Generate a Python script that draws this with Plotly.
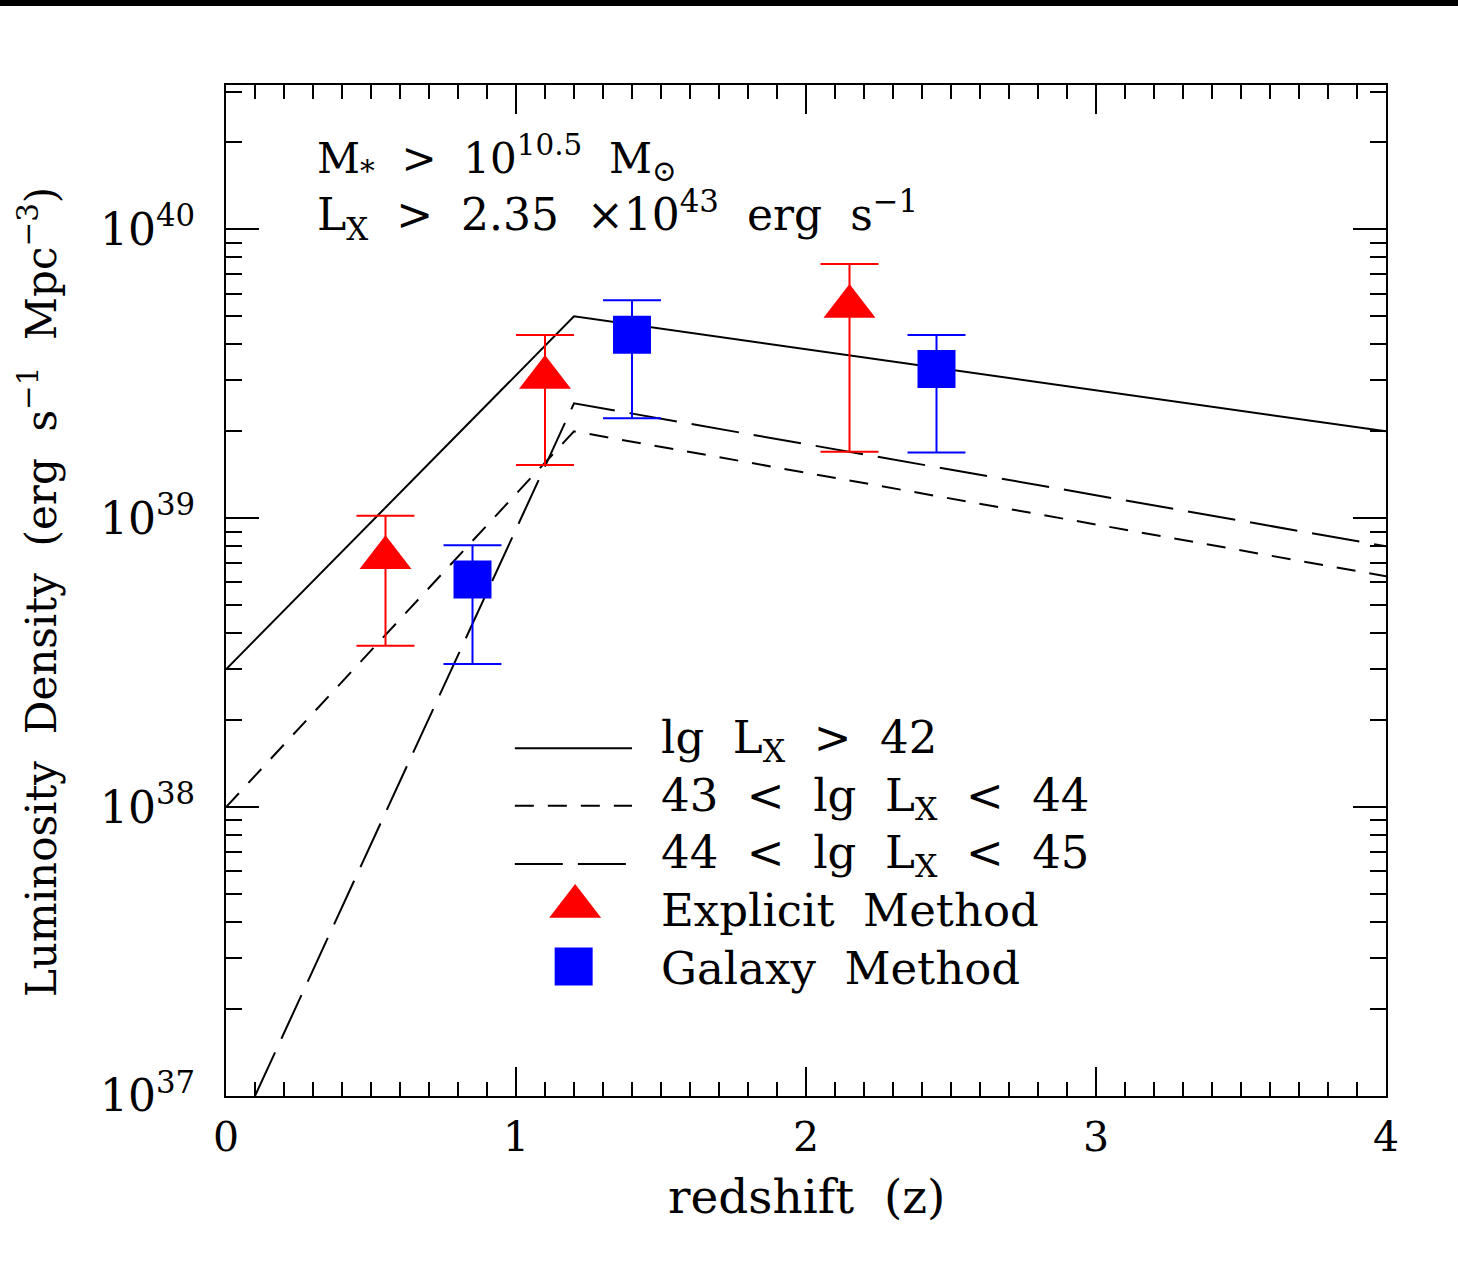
import plotly.graph_objects as go

# ---------------- data ----------------
z_gt42 = [0.0, 1.2, 4.0]
lum_gt42 = [3.0e38, 5.0e39, 2.0e39]

z_43_44 = [0.0, 1.2, 4.0]
lum_43_44 = [1.0e38, 2.0e39, 6.3e38]

z_44_45 = [0.1, 1.2, 4.0]
lum_44_45 = [1.0e37, 2.5e39, 8.0e38]

z_explicit = [0.55, 1.10, 2.15]
lum_explicit = [7.3e38, 3.07e39, 5.41e39]
lum_explicit_hi = [1.02e39, 4.31e39, 7.59e39]
lum_explicit_lo = [3.62e38, 1.53e39, 1.70e39]

z_galaxy = [0.85, 1.40, 2.45]
lum_galaxy = [6.14e38, 4.32e39, 3.29e39]
lum_galaxy_hi = [8.07e38, 5.69e39, 4.31e39]
lum_galaxy_lo = [3.13e38, 2.22e39, 1.69e39]

x_major = [0, 1, 2, 3, 4]
x_minor = [i / 10 for i in range(1, 40) if i % 10 != 0]
y_major = [1e37, 1e38, 1e39, 1e40]
y_major_text = ["10<sup>37</sup>", "10<sup>38</sup>", "10<sup>39</sup>", "10<sup>40</sup>"]
y_minor = [k * 10.0 ** n for n in range(37, 41) for k in range(2, 10) if k * 10.0 ** n < 3.2e40]

legend_labels = [
    "lg\u00a0\u00a0L<sub>X</sub>\u00a0\u00a0>\u00a0\u00a042",
    "43\u00a0\u00a0<\u00a0\u00a0lg\u00a0\u00a0L<sub>X</sub>\u00a0\u00a0<\u00a0\u00a044",
    "44\u00a0\u00a0<\u00a0\u00a0lg\u00a0\u00a0L<sub>X</sub>\u00a0\u00a0<\u00a0\u00a045",
    "Explicit\u00a0\u00a0Method",
    "Galaxy\u00a0\u00a0Method",
]

FONT = "DejaVu Serif"
RED = "#ff0000"
BLUE = "#0000ff"

fig = go.Figure()

# model curves
fig.add_trace(go.Scatter(x=z_gt42, y=lum_gt42, mode="lines",
                         line=dict(color="black", width=2), showlegend=False))
fig.add_trace(go.Scatter(x=z_43_44, y=lum_43_44, mode="lines",
                         line=dict(color="black", width=2, dash="19px,14px"), showlegend=False))
fig.add_trace(go.Scatter(x=z_44_45, y=lum_44_45, mode="lines",
                         line=dict(color="black", width=2, dash="48px,15px"), showlegend=False))

# data points with error bars
fig.add_trace(go.Scatter(
    x=z_explicit, y=lum_explicit, mode="markers",
    marker=dict(symbol="triangle-up", size=45, color=RED, line=dict(width=0)),
    error_y=dict(type="data", symmetric=False,
                 array=[h - v for h, v in zip(lum_explicit_hi, lum_explicit)],
                 arrayminus=[v - l for v, l in zip(lum_explicit, lum_explicit_lo)],
                 color=RED, thickness=2, width=29),
    showlegend=False))
fig.add_trace(go.Scatter(
    x=z_galaxy, y=lum_galaxy, mode="markers",
    marker=dict(symbol="square", size=38, color=BLUE, line=dict(width=0)),
    error_y=dict(type="data", symmetric=False,
                 array=[h - v for h, v in zip(lum_galaxy_hi, lum_galaxy)],
                 arrayminus=[v - l for v, l in zip(lum_galaxy, lum_galaxy_lo)],
                 color=BLUE, thickness=2, width=29),
    showlegend=False))

# hand-drawn legend on an overlay axis in [0,1] units
leg_x0, leg_x1 = 0.249, 0.350
leg_line_y = [0.344, 0.287, 0.2295]
leg_dash = ["solid", "19px,14px", "48px,15px"]
for yy, dd in zip(leg_line_y, leg_dash):
    fig.add_trace(go.Scatter(x=[leg_x0, leg_x1], y=[yy, yy], mode="lines",
                             line=dict(color="black", width=2, dash=dd),
                             xaxis="x2", yaxis="y2", showlegend=False))
fig.add_trace(go.Scatter(x=[0.301], y=[0.1875], mode="markers",
                         marker=dict(symbol="triangle-up", size=45, color=RED, line=dict(width=0)),
                         xaxis="x2", yaxis="y2", showlegend=False))
fig.add_trace(go.Scatter(x=[0.2997], y=[0.128], mode="markers",
                         marker=dict(symbol="square", size=38, color=BLUE, line=dict(width=0)),
                         xaxis="x2", yaxis="y2", showlegend=False))

annotations = []
leg_text_y = [0.3521, 0.2947, 0.2384, 0.1830, 0.1266]
for lab, yy in zip(legend_labels, leg_text_y):
    annotations.append(dict(text=lab, x=0.3733, y=yy, xref="paper", yref="paper",
                            xanchor="left", yanchor="middle", showarrow=False,
                            font=dict(family=FONT, size=45, color="black")))

annotations.append(dict(
    text="M<sub>*</sub>\u00a0\u00a0>\u00a0\u00a010<sup>10.5</sup>\u00a0\u00a0M<sub>\u2299</sub>",
    x=0.0767, y=0.928, xref="paper", yref="paper", xanchor="left", yanchor="middle",
    showarrow=False, font=dict(family=FONT, size=42, color="black")))
annotations.append(dict(
    text="L<sub>X</sub>\u00a0\u00a0>\u00a0\u00a02.35\u00a0\u00a0\u00d710<sup>43</sup>\u00a0\u00a0erg\u00a0\u00a0s<sup>\u22121</sup>",
    x=0.0767, y=0.8714, xref="paper", yref="paper", xanchor="left", yanchor="middle",
    showarrow=False, font=dict(family=FONT, size=44, color="black")))

# axis titles
annotations.append(dict(text="redshift\u00a0\u00a0(z)", x=0.5, y=-0.0999, xref="paper", yref="paper",
                        xanchor="center", yanchor="middle", showarrow=False,
                        font=dict(family=FONT, size=47, color="black")))
annotations.append(dict(
    text="Luminosity\u00a0\u00a0Density\u00a0\u00a0(erg\u00a0\u00a0s<sup>\u22121</sup>\u00a0\u00a0Mpc<sup>\u22123</sup>)",
    x=-0.162, y=0.4985, xref="paper", yref="paper", xanchor="center", yanchor="middle",
    textangle=-90, showarrow=False, font=dict(family=FONT, size=42, color="black")))

axis_common = dict(showline=True, linewidth=2, linecolor="black", mirror="allticks",
                   ticks="inside", tickcolor="black", tickwidth=2, showgrid=False,
                   zeroline=False)

fig.update_layout(
    width=1458, height=1288, autosize=False,
    margin=dict(l=226, r=72, t=85, b=192, pad=0),
    paper_bgcolor="white", plot_bgcolor="white",
    showlegend=False,
    xaxis=dict(range=[0, 4], tickmode="array", tickvals=x_major,
               ticktext=[str(v) for v in x_major], ticklen=29, ticklabelstandoff=4,
               tickfont=dict(family=FONT, size=41, color="black"),
               minor=dict(tickmode="array", tickvals=x_minor, ticks="inside", ticklen=14,
                          tickwidth=2, tickcolor="black", showgrid=False),
               **axis_common),
    yaxis=dict(type="log", range=[37, 40.5], tickmode="array", tickvals=y_major,
               ticktext=y_major_text, ticklen=33, ticklabelstandoff=20,
               tickfont=dict(family=FONT, size=44, color="black"),
               minor=dict(tickmode="array", tickvals=y_minor, ticks="inside", ticklen=16,
                          tickwidth=2, tickcolor="black", showgrid=False),
               **axis_common),
    xaxis2=dict(range=[0, 1], overlaying="x", visible=False, anchor="y2"),
    yaxis2=dict(range=[0, 1], overlaying="y", visible=False, anchor="x2"),
    annotations=annotations,
    shapes=[dict(type="rect", xref="paper", yref="paper", x0=-0.3, x1=1.3,
                 y0=1.0781, y1=1.1, fillcolor="black", line=dict(width=0), layer="above")],
)

fig.write_html("out.html")
